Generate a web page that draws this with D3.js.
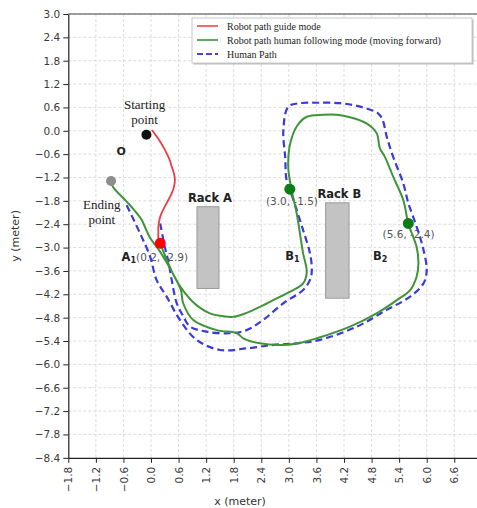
<!DOCTYPE html>
<html>
<head>
<meta charset="utf-8">
<script src="https://cdn.jsdelivr.net/npm/d3@7"></script>
<style>
    body { margin: 0; background: #fff; }
    #chart svg { display: block; overflow: hidden; }
    .axis text { font-family: "DejaVu Sans", sans-serif; font-size: 10.5px; fill: #3a3a3a; }
    .axis path, .axis line { stroke: #222; }
    .grid line { stroke: #d4d4d4; stroke-width: 0.8; stroke-dasharray: 3,2; }
    .serif { font-family: "Liberation Serif", "Times New Roman", serif; fill: #222; }
    .bold { font-family: "DejaVu Sans", sans-serif; font-weight: bold; fill: #222; }
    .coord { font-family: "DejaVu Sans", sans-serif; fill: #555; font-size: 10.5px; }
</style>
</head>
<body>
<div id="chart"></div>
<script>
// tick values (meter)
const xTicks = [-1.8, -1.2, -0.6, 0.0, 0.6, 1.2, 1.8, 2.4, 3.0, 3.6, 4.2, 4.8, 5.4, 6.0, 6.6, 7.2];
const yTicks = [3.0, 2.4, 1.8, 1.2, 0.6, 0.0, -0.6, -1.2, -1.8, -2.4, -3.0, -3.6, -4.2, -4.8, -5.4, -6.0, -6.6, -7.2, -7.8, -8.4];

// robot path in guide mode (start -> A1)
const redPath = [[0.02, 0.02], [0.12, -0.14], [0.20, -0.28], [0.28, -0.44], [0.34, -0.58], [0.41, -0.76], [0.45, -0.92],
    [0.50, -1.10], [0.52, -1.26], [0.50, -1.44], [0.45, -1.61], [0.37, -1.79], [0.30, -1.95], [0.24, -2.09],
    [0.20, -2.21], [0.16, -2.46], [0.16, -2.62], [0.16, -2.76], [0.20, -2.89]];

// robot path in human following mode (A1 -> B1 -> B2 -> ending point)
const greenPath = [[0.20, -2.89], [0.30, -3.19], [0.44, -3.58], [0.57, -3.88], [0.72, -4.14], [0.89, -4.37], [1.07, -4.55],
    [1.28, -4.69], [1.55, -4.76], [1.79, -4.78], [2.03, -4.70], [2.23, -4.60], [2.45, -4.48], [2.66, -4.35],
    [3.03, -4.13], [3.31, -3.92], [3.39, -3.63], [3.31, -3.15], [3.24, -2.63], [3.17, -2.12], [3.06, -1.52],
    [2.99, -1.01], [2.99, -0.67], [3.03, -0.32], [3.17, 0.11], [3.39, 0.36], [3.75, 0.41], [4.04, 0.41],
    [4.33, 0.35], [4.69, 0.19], [4.91, -0.06], [4.98, -0.45], [5.09, -0.67], [5.27, -1.18], [5.49, -1.78],
    [5.60, -2.38], [5.78, -2.98], [5.82, -3.40], [5.78, -3.75], [5.64, -4.09], [5.35, -4.35], [4.91, -4.69],
    [4.33, -5.03], [3.61, -5.33], [3.24, -5.45], [2.88, -5.50], [2.37, -5.46], [2.01, -5.33], [1.87, -5.20],
    [1.43, -5.12], [0.92, -4.86], [0.70, -4.43], [0.65, -4.09], [0.46, -3.63], [0.20, -3.11], [-0.02, -2.75],
    [-0.15, -2.42], [-0.20, -2.29], [-0.37, -2.03], [-0.53, -1.82], [-0.83, -1.44], [-0.87, -1.29]];

// human path
const bluePath = [[0.20, -2.38], [0.30, -2.98], [0.38, -3.37], [0.45, -3.83], [0.56, -4.43], [0.70, -4.76], [0.85, -5.03],
    [1.21, -5.16], [1.72, -5.20], [2.08, -5.12], [2.44, -4.86], [2.88, -4.43], [3.31, -4.09], [3.46, -3.83],
    [3.50, -3.58], [3.46, -3.15], [3.31, -2.55], [3.10, -1.78], [2.95, -1.26], [2.92, -0.67], [2.88, 0.02],
    [2.99, 0.62], [3.24, 0.71], [3.61, 0.72], [4.11, 0.71], [4.55, 0.62], [4.94, 0.45], [5.04, 0.28],
    [5.13, -0.15], [5.27, -0.67], [5.49, -1.35], [5.60, -1.86], [5.78, -2.46], [5.93, -3.06], [6.00, -3.58],
    [5.93, -3.92], [5.64, -4.26], [5.13, -4.60], [4.48, -5.03], [3.68, -5.37], [3.17, -5.46], [2.66, -5.50],
    [2.08, -5.59], [1.50, -5.63], [0.99, -5.37], [0.63, -4.86], [0.34, -4.26], [0.12, -3.83], [-0.02, -3.23],
    [-0.24, -2.63], [-0.53, -1.91]];

// points of interest
const pointNames = ["start", "end", "A1", "B1", "B2"];
const pointX = [-0.10, -0.87, 0.20, 3.02, 5.60];
const pointY = [-0.10, -1.29, -2.89, -1.50, -2.38];

// racks (x from, x to, y from, y to)
const rackNames = ["Rack A", "Rack B"];
const rackX0 = [1.00, 3.80];
const rackX1 = [1.48, 4.31];
const rackY0 = [-4.05, -4.30];
const rackY1 = [-1.95, -1.85];

const legendLabels = ["Robot path guide mode", "Robot path human following mode (moving forward)", "Human Path"];

class PathVis {
    constructor(parentElement) {
        this.parentElement = parentElement;
        this.initVis();
    }

    initVis() {
        let vis = this;

        vis.margin = {top: 14, left: 68.3};
        vis.unitX = 45.95;
        vis.unitY = 38.93;

        vis.svg = d3.select("#" + vis.parentElement).append("svg")
            .attr("width", 477)
            .attr("height", 508);

        // scales
        vis.x = d3.scaleLinear().domain([-1.8, 7.5])
            .range([vis.margin.left, vis.margin.left + 9.3 * vis.unitX]);
        vis.y = d3.scaleLinear().domain([-8.4, 3.0])
            .range([vis.margin.top + 11.4 * vis.unitY, vis.margin.top]);

        let x0 = vis.x.range()[0], x1 = vis.x.range()[1];
        let y0 = vis.y.range()[1], y1 = vis.y.range()[0];

        // grid
        let grid = vis.svg.append("g").attr("class", "grid");
        grid.selectAll(".gx").data(xTicks.slice(1)).enter().append("line")
            .attr("x1", d => vis.x(d)).attr("x2", d => vis.x(d))
            .attr("y1", y0).attr("y2", y1);
        grid.selectAll(".gy").data(yTicks.slice(0, -1)).enter().append("line")
            .attr("x1", x0).attr("x2", x1)
            .attr("y1", d => vis.y(d)).attr("y2", d => vis.y(d));

        // top border
        vis.svg.append("line")
            .attr("x1", x0).attr("x2", x1).attr("y1", y0).attr("y2", y0)
            .attr("stroke", "#444").attr("stroke-width", 1);

        // axes
        vis.xAxis = d3.axisBottom(vis.x).tickValues(xTicks).tickFormat(d3.format(".1f")).tickSize(5).tickSizeOuter(0);
        vis.yAxis = d3.axisLeft(vis.y).tickValues(yTicks).tickFormat(d3.format(".1f")).tickSize(5).tickSizeOuter(0);

        vis.svg.append("g")
            .attr("class", "x-axis axis")
            .attr("transform", "translate(0," + y1 + ")")
            .call(vis.xAxis)
            .selectAll("text")
            .attr("transform", "rotate(-90)")
            .attr("text-anchor", "end")
            .attr("x", -9)
            .attr("y", 0)
            .attr("dy", "0.35em");

        vis.svg.append("g")
            .attr("class", "y-axis axis")
            .attr("transform", "translate(" + x0 + ",0)")
            .call(vis.yAxis);

        vis.svg.selectAll(".axis .domain").attr("stroke-width", 1.2);

        // axis titles
        vis.svg.append("text")
            .attr("x", 240).attr("y", 505)
            .attr("text-anchor", "middle")
            .style("font-family", "DejaVu Sans, sans-serif").style("font-size", "11px").style("fill", "#333")
            .text("x (meter)");
        vis.svg.append("text")
            .attr("transform", "translate(19," + (y0 + y1) / 2 + ") rotate(-90)")
            .attr("text-anchor", "middle")
            .style("font-family", "DejaVu Sans, sans-serif").style("font-size", "11px").style("fill", "#333")
            .text("y (meter)");

        vis.wrangleData();
    }

    wrangleData() {
        let vis = this;
        vis.points = pointNames.map((n, i) => ({name: n, x: pointX[i], y: pointY[i]}));
        vis.racks = rackNames.map((n, i) => ({name: n, x0: rackX0[i], x1: rackX1[i], y0: rackY0[i], y1: rackY1[i]}));
        vis.updateVis();
    }

    updateVis() {
        let vis = this;

        // racks
        vis.svg.selectAll(".rack").data(vis.racks).enter().append("rect")
            .attr("class", "rack")
            .attr("x", d => vis.x(d.x0))
            .attr("y", d => vis.y(d.y1))
            .attr("width", d => vis.x(d.x1) - vis.x(d.x0))
            .attr("height", d => vis.y(d.y0) - vis.y(d.y1))
            .attr("fill", "#c3c3c3")
            .attr("stroke", "#9a9a9a")
            .attr("stroke-width", 1);

        vis.svg.selectAll(".rack-label").data(vis.racks).enter().append("text")
            .attr("class", "bold")
            .attr("x", d => vis.x((d.x0 + d.x1) / 2) + 2)
            .attr("y", d => vis.y(d.y1) - 5)
            .attr("text-anchor", "middle")
            .style("font-size", "11.5px")
            .text(d => d.name);

        // annotations
        let ann = vis.svg.append("g");
        let start = ann.append("text").attr("class", "serif").attr("text-anchor", "middle").style("font-size", "13px");
        start.append("tspan").attr("x", vis.x(-0.14)).attr("y", vis.y(0.56)).text("Starting");
        start.append("tspan").attr("x", vis.x(-0.14)).attr("y", vis.y(0.17)).text("point");

        let end = ann.append("text").attr("class", "serif").attr("text-anchor", "middle").style("font-size", "13px");
        end.append("tspan").attr("x", vis.x(-1.07)).attr("y", vis.y(-2.01)).text("Ending");
        end.append("tspan").attr("x", vis.x(-1.07)).attr("y", vis.y(-2.39)).text("point");

        ann.append("text").attr("class", "bold").style("font-size", "11px")
            .attr("x", vis.x(-0.65)).attr("y", vis.y(-0.62)).attr("text-anchor", "middle").text("O");

        let a1 = ann.append("text").attr("x", vis.x(-0.64)).attr("y", vis.y(-3.34));
        a1.append("tspan").attr("class", "bold").style("font-size", "11.5px").text("A");
        a1.append("tspan").attr("class", "bold").style("font-size", "8px").attr("dy", 2).text("1");
        a1.append("tspan").attr("class", "coord").attr("dy", -2).text("(0.2, -2.9)");

        ann.append("text").attr("class", "coord").attr("x", vis.x(2.50)).attr("y", vis.y(-1.91)).text("(3.0, -1.5)");
        ann.append("text").attr("class", "coord").attr("x", vis.x(5.04)).attr("y", vis.y(-2.76)).text("(5.6, -2.4)");

        let b1 = ann.append("text").attr("x", vis.x(2.92)).attr("y", vis.y(-3.32));
        b1.append("tspan").attr("class", "bold").style("font-size", "11.5px").text("B");
        b1.append("tspan").attr("class", "bold").style("font-size", "8px").attr("dy", 2).text("1");
        let b2 = ann.append("text").attr("x", vis.x(4.83)).attr("y", vis.y(-3.32));
        b2.append("tspan").attr("class", "bold").style("font-size", "11.5px").text("B");
        b2.append("tspan").attr("class", "bold").style("font-size", "8px").attr("dy", 2).text("2");

        // paths
        let line = d3.line().x(d => vis.x(d[0])).y(d => vis.y(d[1])).curve(d3.curveCatmullRom.alpha(0.5));

        vis.svg.append("path").datum(bluePath)
            .attr("d", line).attr("fill", "none")
            .attr("stroke", "#3a3ad8").attr("stroke-width", 2.2).attr("stroke-dasharray", "7,4");
        vis.svg.append("path").datum(greenPath)
            .attr("d", line).attr("fill", "none")
            .attr("stroke", "#3f943a").attr("stroke-width", 2);
        vis.svg.append("path").datum(redPath)
            .attr("d", line).attr("fill", "none")
            .attr("stroke", "#ef3b45").attr("stroke-width", 1.8);

        // points
        let pointColor = {start: "#111", end: "#8e8e8e", A1: "#f00", B1: "#0b7d14", B2: "#0b7d14"};
        vis.svg.selectAll(".pt").data(vis.points).enter().append("circle")
            .attr("class", "pt")
            .attr("cx", d => vis.x(d.x))
            .attr("cy", d => vis.y(d.y))
            .attr("r", d => d.name === "start" || d.name === "end" ? 5 : 5.5)
            .attr("fill", d => pointColor[d.name]);

        // legend
        let legend = vis.svg.append("g").attr("transform", "translate(192,18)");
        legend.append("rect").attr("x", 1.5).attr("y", 1.5).attr("width", 280).attr("height", 45)
            .attr("fill", "#bbb");
        legend.append("rect").attr("width", 280).attr("height", 45)
            .attr("fill", "#fff").attr("stroke", "#c8c8c8");
        let colors = ["#ef5a60", "#4f9f4a", "#4747d0"];
        legendLabels.forEach((lab, i) => {
            let cy = 8 + i * 14;
            legend.append("line").attr("x1", 5).attr("x2", 26).attr("y1", cy).attr("y2", cy)
                .attr("stroke", colors[i]).attr("stroke-width", 1.8)
                .attr("stroke-dasharray", i === 2 ? "6,3" : null);
            legend.append("text").attr("class", "serif").attr("x", 35).attr("y", cy + 3.5)
                .style("font-size", "10px").text(lab);
        });
    }
}

new PathVis("chart");
</script>
</body>
</html>
